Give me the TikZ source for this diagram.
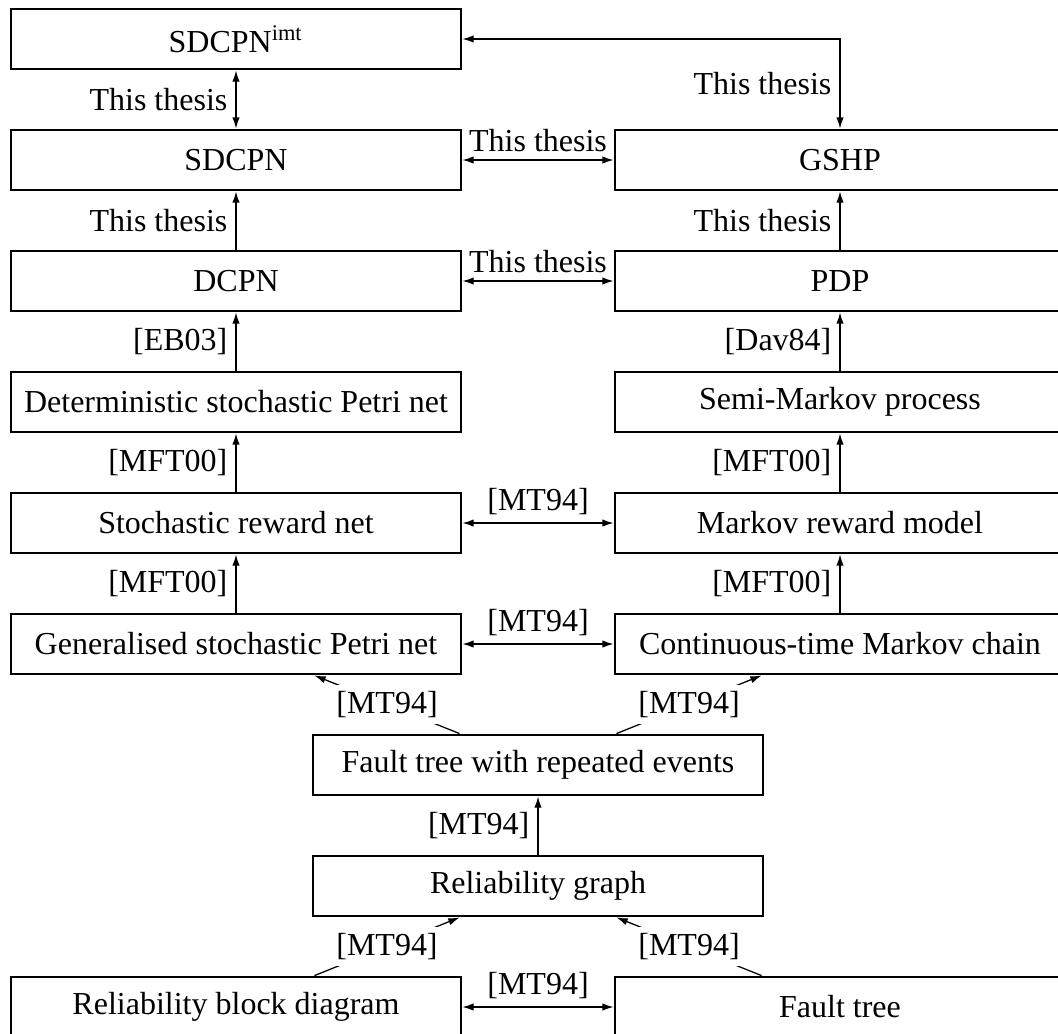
\documentclass[tikz,border=0pt]{standalone}
\usepackage{fontspec}
\setmainfont{Liberation Serif}
\usetikzlibrary{arrows.meta}
\begin{document}
\begin{tikzpicture}[x=0.3125pt,y=-0.3125pt,
  font=\fontsize{10}{12}\selectfont,
  model/.style={draw, line width=0.9pt, minimum width=140.625pt, minimum height=18.75pt, inner sep=0pt},
  link/.style={thin, -{Latex[length=3.5pt,width=2.3pt]}},
  both/.style={thin, {Latex[length=3.5pt,width=2.3pt]}-{Latex[length=3.5pt,width=2.3pt]}},
  lbl/.style={inner sep=2.5pt},
  cut/.style={fill=white, inner sep=2pt},
]
\clip (0,0) rectangle (1058,1033);

% model boxes
\node[model] (imt)   at (236,39)   {SDCPN\textsuperscript{imt}};
\node[model] (sdcpn) at (236,160)  {SDCPN};
\node[model] (gshp)  at (840,160)  {GSHP};
\node[model] (dcpn)  at (236,281)  {DCPN};
\node[model] (pdp)   at (840,281)  {PDP};
\node[model] (dspn)  at (236,402)  {Deterministic stochastic Petri net};
\node[model] (smp)   at (840,402)  {Semi-Markov process};
\node[model] (srn)   at (236,523)  {Stochastic reward net};
\node[model] (mrm)   at (840,523)  {Markov reward model};
\node[model] (gspn)  at (236,644)  {Generalised stochastic Petri net};
\node[model] (ctmc)  at (840,644)  {Continuous-time Markov chain};
\node[model] (ftre)  at (538,765)  {Fault tree with repeated events};
\node[model] (rg)    at (538,886)  {Reliability graph};
\node[model] (rbd)   at (236,1007) {Reliability block diagram};
\node[model] (ft)    at (840,1007) {Fault tree};

% relations
\draw[both] (imt) -- node[lbl,left] {This thesis} (sdcpn);
\draw[both] (imt.east) -| node[lbl,left,pos=0.75] {This thesis} (gshp.north);
\draw[both] (sdcpn) -- node[lbl,above] {This thesis} (gshp);
\draw[link] (dcpn) -- node[lbl,left] {This thesis} (sdcpn);
\draw[link] (pdp) -- node[lbl,left] {This thesis} (gshp);
\draw[both] (dcpn) -- node[lbl,above] {This thesis} (pdp);
\draw[link] (dspn) -- node[lbl,left] {[EB03]} (dcpn);
\draw[link] (smp) -- node[lbl,left] {[Dav84]} (pdp);
\draw[link] (srn) -- node[lbl,left] {[MFT00]} (dspn);
\draw[link] (mrm) -- node[lbl,left] {[MFT00]} (smp);
\draw[both] (srn) -- node[lbl,above] {[MT94]} (mrm);
\draw[link] (gspn) -- node[lbl,left] {[MFT00]} (srn);
\draw[link] (ctmc) -- node[lbl,left] {[MFT00]} (mrm);
\draw[both] (gspn) -- node[lbl,above] {[MT94]} (ctmc);
\draw[link] (ftre) -- node[cut] {[MT94]} (gspn);
\draw[link] (ftre) -- node[cut] {[MT94]} (ctmc);
\draw[link] (rg) -- node[lbl,left] {[MT94]} (ftre);
\draw[link] (rbd) -- node[cut] {[MT94]} (rg);
\draw[link] (ft) -- node[cut] {[MT94]} (rg);
\draw[both] (rbd) -- node[lbl,above] {[MT94]} (ft);
\end{tikzpicture}
\end{document}
